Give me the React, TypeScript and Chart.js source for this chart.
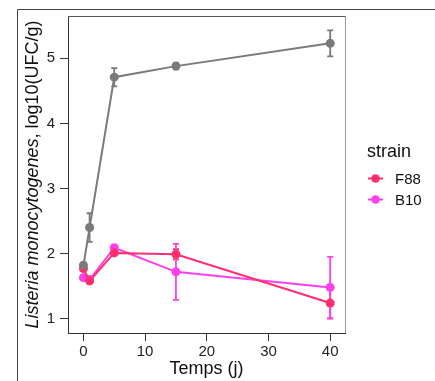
import React, { useEffect, useRef } from "react";
import { Chart, registerables } from "chart.js";

Chart.register(...registerables);

const days = [0, 1, 5, 15, 40];
const xTicks = [0, 10, 20, 30, 40];
const yTicks = [1, 2, 3, 4, 5];

const grayMean = [1.82, 2.4, 4.71, 4.88, 5.23];
const grayErr = [0.03, 0.22, 0.14, 0.05, 0.2];
const f88Mean = [1.77, 1.58, 2.01, 1.99, 1.24];
const f88Err = [0.04, 0.04, 0.03, 0.08, 0.24];
const b10Mean = [1.63, 1.6, 2.09, 1.72, 1.48];
const b10Err = [0.03, 0.03, 0.04, 0.43, 0.47];

const legendLabels = ["F88", "B10"];
const legendTitle = "strain";
const xTitle = "Temps (j)";
const yTitleItalic = "Listeria monocytogenes";
const yTitleRest = ", log10(UFC/g)";

const GRAY = "#7a7a7a";
const RED = "#ff2e6e";
const MAG = "#ff40ea";
const FONT = "'Liberation Sans', Arial, sans-serif";

const series = [
  { label: "NA", mean: grayMean, err: grayErr, color: GRAY },
  { label: "F88", mean: f88Mean, err: f88Err, color: RED },
  { label: "B10", mean: b10Mean, err: b10Err, color: MAG },
];

const decorPlugin = {
  id: "decor",
  beforeDatasetsDraw(chart: any) {
    const { ctx, chartArea: a, scales } = chart;
    const xs = scales.x;
    const ys = scales.y;
    ctx.save();
    // panel top/right border
    ctx.lineWidth = 1;
    ctx.strokeStyle = "#555";
    ctx.beginPath();
    ctx.moveTo(a.left, a.top + 0.5);
    ctx.lineTo(a.right, a.top + 0.5);
    ctx.stroke();
    ctx.strokeStyle = "#999";
    ctx.beginPath();
    ctx.moveTo(a.right + 0.5, a.top);
    ctx.lineTo(a.right + 0.5, a.bottom);
    ctx.stroke();
    // error bars
    series.forEach((s) => {
      ctx.strokeStyle = s.color;
      ctx.lineWidth = 1.8;
      days.forEach((d, i) => {
        const px = xs.getPixelForValue(d);
        const top = ys.getPixelForValue(s.mean[i] + s.err[i]);
        const bot = ys.getPixelForValue(s.mean[i] - s.err[i]);
        ctx.beginPath();
        ctx.moveTo(px, top);
        ctx.lineTo(px, bot);
        ctx.moveTo(px - 3, top);
        ctx.lineTo(px + 3, top);
        ctx.moveTo(px - 3, bot);
        ctx.lineTo(px + 3, bot);
        ctx.stroke();
      });
    });
    ctx.restore();
  },
  afterDraw(chart: any) {
    const { ctx, chartArea: a } = chart;
    ctx.save();
    // outer frame
    ctx.strokeStyle = "#444";
    ctx.lineWidth = 1;
    ctx.beginPath();
    ctx.moveTo(17.5, 381);
    ctx.lineTo(17.5, 9.5);
    ctx.lineTo(435, 9.5);
    ctx.stroke();

    // x title
    ctx.fillStyle = "#111";
    ctx.font = `18px ${FONT}`;
    ctx.textAlign = "center";
    ctx.textBaseline = "alphabetic";
    ctx.fillText(xTitle, (a.left + a.right) / 2, 374);

    // y title (mixed italic)
    const italicFont = `italic 18px ${FONT}`;
    const normalFont = `18px ${FONT}`;
    ctx.font = italicFont;
    const w1 = ctx.measureText(yTitleItalic).width;
    ctx.font = normalFont;
    const w2 = ctx.measureText(yTitleRest).width;
    const total = w1 + w2;
    ctx.translate(38, (a.top + a.bottom) / 2);
    ctx.rotate(-Math.PI / 2);
    ctx.textAlign = "left";
    ctx.font = italicFont;
    ctx.fillText(yTitleItalic, -total / 2, 0);
    ctx.font = normalFont;
    ctx.fillText(yTitleRest, -total / 2 + w1, 0);
    ctx.setTransform(1, 0, 0, 1, 0, 0);

    // legend
    ctx.font = `18px ${FONT}`;
    ctx.textAlign = "left";
    ctx.fillStyle = "#111";
    ctx.fillText(legendTitle, 367, 157);
    const cols = [RED, MAG];
    const ys = [178.5, 199.5];
    legendLabels.forEach((lab, i) => {
      ctx.strokeStyle = cols[i];
      ctx.lineWidth = 2;
      ctx.beginPath();
      ctx.moveTo(368, ys[i]);
      ctx.lineTo(383, ys[i]);
      ctx.stroke();
      ctx.fillStyle = cols[i];
      ctx.beginPath();
      ctx.arc(375.5, ys[i], 4.3, 0, Math.PI * 2);
      ctx.fill();
      ctx.fillStyle = "#111";
      ctx.font = `15px ${FONT}`;
      ctx.fillText(lab, 395, ys[i] + 5.5);
    });
    ctx.restore();
  },
};

export default function App() {
  const ref = useRef<HTMLCanvasElement | null>(null);
  useEffect(() => {
    if (!ref.current) return;
    const chart = new Chart(ref.current, {
      type: "line",
      data: {
        datasets: series.map((s) => ({
          label: s.label,
          data: days.map((d, i) => ({ x: d, y: s.mean[i] })),
          borderColor: s.color,
          backgroundColor: s.color,
          pointBackgroundColor: s.color,
          pointBorderColor: s.color,
          borderWidth: 2,
          pointRadius: 4.5,
          pointBorderWidth: 0,
          tension: 0,
        })),
      },
      options: {
        animation: false,
        responsive: false,
        maintainAspectRatio: false,
        layout: { padding: { top: 16, right: 90, left: 0, bottom: 0 } },
        plugins: {
          legend: { display: false },
          tooltip: { enabled: false },
        },
        scales: {
          x: {
            type: "linear",
            min: -2.5,
            max: 42.4,
            afterBuildTicks: (sc: any) => {
              sc.ticks = xTicks.map((v) => ({ value: v }));
            },
            afterFit: (sc: any) => {
              sc.height = 48;
            },
            grid: { drawOnChartArea: false, drawTicks: true, tickLength: 8, color: "#333" },
            border: { display: true, color: "#333", width: 1 },
            ticks: { font: { family: FONT, size: 15 }, color: "#222", padding: 2, maxRotation: 0 },
          },
          y: {
            type: "linear",
            min: 0.78,
            max: 5.65,
            afterBuildTicks: (sc: any) => {
              sc.ticks = yTicks.map((v) => ({ value: v }));
            },
            afterFit: (sc: any) => {
              sc.width = 68;
            },
            grid: { drawOnChartArea: false, drawTicks: true, tickLength: 8, color: "#333" },
            border: { display: true, color: "#333", width: 1 },
            ticks: { font: { family: FONT, size: 15 }, color: "#222", padding: 5 },
          },
        },
      },
      plugins: [decorPlugin],
    } as any);
    return () => chart.destroy();
  }, []);
  return (
    <div style={{ position: "fixed", left: 0, top: 0, width: 435, height: 381, background: "#fff" }}>
      <canvas ref={ref} width={435} height={381} style={{ width: 435, height: 381, display: "block" }} />
    </div>
  );
}
